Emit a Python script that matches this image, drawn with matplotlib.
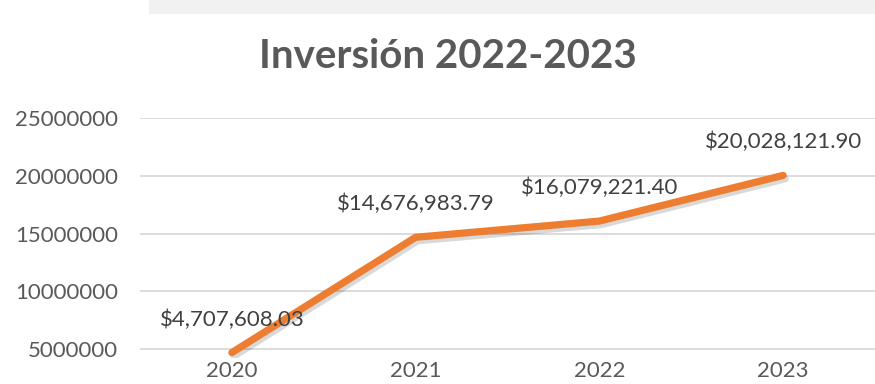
import matplotlib
matplotlib.use('Agg')
import matplotlib.pyplot as plt
import matplotlib.patheffects as pe
from matplotlib.patches import Rectangle

# data
years = ['2020', '2021', '2022', '2023']
inversion = [4707608.03, 14676983.79, 16079221.40, 20028121.90]
yticks = [5000000, 10000000, 15000000, 20000000, 25000000]

plt.rcParams['font.family'] = ['Lato', 'DejaVu Sans']

fig = plt.figure(figsize=(8.75, 3.84), dpi=100)
fig.patch.set_facecolor('white')
# faded strip of the screenshot above the chart
fig.patches.append(Rectangle((0.17, 0.963), 0.83, 0.037, transform=fig.transFigure,
                             facecolor='#f1f1f1', edgecolor='none'))

ax = fig.add_axes([0.16, 0.068, 0.84, 0.625])
x = list(range(len(years)))
ax.plot(x, inversion, color='#ED7D31', lw=5.2, solid_capstyle='round', solid_joinstyle='round',
        zorder=3, path_effects=[pe.SimpleLineShadow(offset=(1.5, -2.5), shadow_color='black', alpha=0.15),
                                pe.Normal()])
for xi, v in zip(x, inversion):
    ax.annotate('${:,.2f}'.format(v), (xi, v), xytext=(0, 27), textcoords='offset pixels',
                ha='center', va='baseline', fontsize=16, color='#404040')

ax.set_xlim(-0.5, 3.5)
ax.set_ylim(4250000, 25000000)
ax.set_yticks(yticks)
ax.set_yticklabels([str(t) for t in yticks])
ax.set_xticks(x)
ax.set_xticklabels(years)
ax.grid(axis='y', color='#d9d9d9', lw=1.3)
ax.set_axisbelow(True)
for s in ax.spines.values():
    s.set_visible(False)
ax.tick_params(axis='both', length=0, labelsize=16, labelcolor='#595959')
ax.tick_params(axis='y', pad=16)
ax.tick_params(axis='x', pad=2)

fig.text(0.512, 0.823, 'Inversión 2022-2023', ha='center', va='baseline', fontsize=29,
         fontweight='bold', color='#595959')

fig.savefig('out.png', dpi=100)
